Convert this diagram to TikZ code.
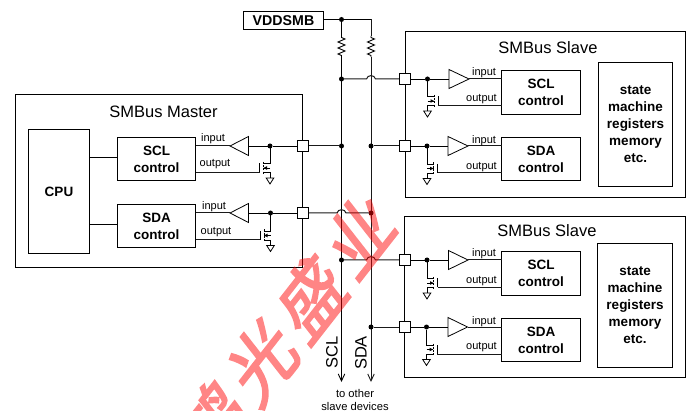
\documentclass[tikz,border=0pt]{standalone}
\usepackage{fontspec}
\setmainfont{Liberation Sans}
\newfontfamily\cjkwm[FakeBold=2.6,LetterSpace=12]{Noto Sans CJK SC}
\usetikzlibrary{arrows.meta,calc}
\tikzset{
  wire/.style={draw=black,line width=.9pt},
  gwire/.style={draw=black!90,line width=1pt},
  frame/.style={draw=black,line width=.9pt,fill=white,anchor=north west,inner sep=0pt,outer sep=0pt},
  ctrl/.style={frame,font=\bfseries\fontsize{13.5}{17}\selectfont,align=center},
  title/.style={font=\fontsize{16.5}{18}\selectfont,inner sep=0pt},
  smalltext/.style={font=\fontsize{11}{13}\selectfont,inner sep=0pt},
  junction/.style={draw=black,line width=.9pt,fill=white,minimum size=11pt,inner sep=0pt,outer sep=0pt},
  dotnode/.style={circle,fill=black,minimum size=5pt,inner sep=0pt,outer sep=0pt},
  busarrow/.style={-{Straight Barb[length=7pt,width=6.5pt,line width=.9pt]}},
}
% box: name, x1, y1, x2, y2, style, text
\newcommand{\bx}[7]{\node[#6,minimum width={(#4-#2)*1pt},minimum height={(#5-#3)*1pt}] (#1) at (#2,#3) {#7};}
% NMOS pull-down: dot-name, dot x, output y, dir(+1 right/-1 left), gate-end name
\newcommand{\pulldown}[5]{%
  \pgfmathsetmacro{\chx}{#2+#4*6.5}
  \pgfmathsetmacro{\gtx}{#2+#4*10.5}
  \pgfmathsetmacro{\tpy}{#3-9}
  \coordinate (#1-d) at (#2,\tpy);
  \coordinate (#1-c) at (\chx,\tpy);
  \coordinate (#5) at (\gtx,#3);
  \coordinate (#1-s) at (\chx,#3);
  \coordinate (#1-b) at (#2,#3);
  \coordinate (#1-g) at (#2,#3+5.5);
  \draw[wire,line width=.8pt] (#1) -- (#1-d) -- (#1-c);
  \draw[wire,line width=.8pt] (#1-s) -- (#1-b) -- (#1-g);
  \draw[wire,line width=.8pt] (\gtx,\tpy) -- (#5);
  \draw[line width=1pt,dash pattern=on 2pt off 1.2pt] (\chx,\tpy-1.5) -- (\chx,#3+1.5);
  \draw[line width=.7pt] (#2,#3-4.5) -- (\chx,#3-4.5);
  \fill ($(\chx,#3-4.5)+(-#4*3.5,-1.8)$) -- (\chx,#3-4.5) -- ($(\chx,#3-4.5)+(-#4*3.5,1.8)$) -- cycle;
  \draw[wire,line width=.8pt] (#1-g)++(-3.8,0) -- ++(7.6,0) -- ++(-3.8,6) -- cycle;
}
% buffer triangle: name, base x, apex x, y
\newcommand{\buf}[4]{%
  \coordinate (#1-base) at (#2,#4);
  \coordinate (#1-apex) at (#3,#4);
  \draw[wire,fill=white,line width=.8pt] (#2,#4-9.5) -- (#1-apex) -- (#2,#4+9.5) -- cycle;
}
\newcommand{\resistor}[3]{%
  \coordinate (#1-t) at (#2,#3);
  \coordinate (#1-b) at (#2,#3+21);
  \draw[wire] (#1-t) -- ++(0,1.5) -- ++(3.5,1.5) -- ++(-7,3) -- ++(7,3) -- ++(-7,3) -- ++(7,3) -- ++(-7,3) -- ++(3.5,1.5) -- (#1-b);
}
\begin{document}
\begin{tikzpicture}[x=1pt,y=-1pt]
\useasboundingbox (0,0) rectangle (690,411);
% enclosures
\bx{master}{15.5}{94.5}{302.5}{267.5}{frame}{}
\bx{slaveA}{405.5}{31.5}{685}{197.5}{frame}{}
\bx{slaveB}{404.5}{216.5}{685}{377.5}{frame}{}
\node[title] (mt) at (163.5,112) {SMBus Master};
\node[title] (sta) at (548,47.5) {SMBus Slave};
\node[title] (stb) at (547,230.5) {SMBus Slave};
% function blocks
\bx{cpu}{28.5}{129.5}{89.5}{253.5}{ctrl}{CPU}
\bx{mscl}{117.5}{137.5}{195.5}{180.5}{ctrl}{SCL\\control}
\bx{msda}{117.5}{204.5}{195.5}{247.5}{ctrl}{SDA\\control}
\bx{ascl}{501.5}{70.5}{580.5}{114.5}{ctrl}{SCL\\control}
\bx{asda}{501.5}{137.5}{580.5}{180.5}{ctrl}{SDA\\control}
\bx{astate}{598.5}{62.5}{672.5}{186.5}{ctrl}{state\\machine\\registers\\memory\\etc.}
\bx{bscl}{501.5}{251.5}{580.5}{295.5}{ctrl}{SCL\\control}
\bx{bsda}{501.5}{318.5}{580.5}{361.5}{ctrl}{SDA\\control}
\bx{bstate}{597.5}{243.5}{672.5}{367.5}{ctrl}{state\\machine\\registers\\memory\\etc.}
\bx{vdd}{243.5}{11.5}{323.5}{29.5}{ctrl,font=\bfseries\fontsize{14.2}{17}\selectfont}{VDDSMB}
% CPU links
\draw[wire] (89.5,157.5) -- (117.5,157.5);
\draw[wire] (89.5,224.5) -- (117.5,224.5);
% rail and bus points
\coordinate (rail1) at (341.5,19.5);
\coordinate (rail2) at (371,19.5);
\coordinate (sclEnd) at (341.5,382);
\coordinate (sdaEnd) at (371,382);
\resistor{r1}{341.5}{36}
\resistor{r2}{371}{36}
\draw[wire] (vdd.east |- rail1) -- (rail1) -- (rail2);
\draw[gwire] (rail2) -- (r2-t);
\draw[wire] (rail1) -- (r1-t);
\draw[wire,busarrow] (r1-b) -- (sclEnd);
\draw[gwire,busarrow] (r2-b) -- (sdaEnd);
% junction positions
\node[dotnode] (d1) at (341.5,19.5) {};
\node[dotnode] (dA) at (341.5,79) {};
\node[dotnode] (dB) at (341.5,146) {};
\node[dotnode] (dC) at (371,146) {};
\node[dotnode] (dD) at (371,213) {};
\node[dotnode] (dE) at (341.5,260) {};
\node[dotnode] (dF) at (371,327) {};
% bus stubs
\draw[gwire] (dB) -- (302.5,146);
\draw[gwire] (dC) -- (405.5,146);
\draw[gwire] (302.5,213) -- (337,213) .. controls (337.8,208.6) and (345.2,208.6) .. (346,213) -- (dD);
\draw[gwire] (dA) -- (366.5,79) .. controls (367.3,74.5) and (374.7,74.5) .. (375.5,79) -- (405.5,79);
\draw[gwire] (dE) -- (366.5,260) .. controls (367.3,255.5) and (374.7,255.5) .. (375.5,260) -- (404.5,260);
\draw[gwire] (dF) -- (404.5,327);
% master channels
\node[dotnode] (m1) at (270,146) {};
\node[dotnode] (m2) at (270.5,213) {};
\buf{mb1}{248.5}{230}{146}
\buf{mb2}{248.5}{230}{213}
\draw[wire] (m1) -- (mb1-base);
\draw[wire] (m2) -- (mb2-base);
\draw[gwire] (mb1-apex) -- (195.5,146);
\draw[gwire] (mb2-apex) -- (195.5,213);
\pulldown{m1}{270}{172.5}{-1}{mg1}
\pulldown{m2}{270.5}{240}{-1}{mg2}
\draw[gwire] (mg1) -- (195.5,172.5);
\draw[gwire] (mg2) -- (195.5,240);
% slave A channels
\node[dotnode] (a1) at (427.5,79) {};
\node[dotnode] (a2) at (427,146) {};
\buf{ab1}{449}{469}{79}
\buf{ab2}{448}{468}{146}
\draw[wire] (a1) -- (ab1-base);
\draw[wire] (a2) -- (ab2-base);
\draw[gwire] (ab1-apex) -- (501.5,79);
\draw[gwire] (ab2-apex) -- (501.5,146);
\pulldown{a1}{427.5}{105.5}{1}{ag1}
\pulldown{a2}{427}{173}{1}{ag2}
\draw[gwire] (ag1) -- (501.5,105.5);
\draw[gwire] (ag2) -- (501.5,173);
% slave B channels
\node[dotnode] (b1) at (427,260) {};
\node[dotnode] (b2) at (426.5,327) {};
\buf{bb1}{448.5}{468}{260}
\buf{bb2}{448}{467.5}{327}
\draw[wire] (b1) -- (bb1-base);
\draw[wire] (b2) -- (bb2-base);
\draw[gwire] (bb1-apex) -- (501.5,260);
\draw[gwire] (bb2-apex) -- (501.5,327);
\pulldown{b1}{427}{287.5}{1}{bg1}
\pulldown{b2}{426.5}{354}{1}{bg2}
\draw[gwire] (bg1) -- (501.5,287.5);
\draw[gwire] (bg2) -- (501.5,354);
% interface squares
\node[junction] (jm1) at (302.5,146) {};
\node[junction] (jm2) at (302.5,213) {};
\node[junction] (ja1) at (405,79) {};
\node[junction] (ja2) at (405,146) {};
\node[junction] (jb1) at (404.5,260) {};
\node[junction] (jb2) at (404.5,327) {};
\draw[wire] (jm1) -- (m1);
\draw[wire] (jm2) -- (m2);
\draw[wire] (ja1) -- (a1);
\draw[wire] (ja2) -- (a2);
\draw[wire] (jb1) -- (b1);
\draw[wire] (jb2) -- (b2);
% small labels
\node[smalltext] (t1) at (213,139) {input};
\node[smalltext] (t2) at (215,164.5) {output};
\node[smalltext] (t3) at (214,207) {input};
\node[smalltext] (t4) at (216,232.5) {output};
\node[smalltext] (t5) at (484,72.5) {input};
\node[smalltext] (t6) at (481.5,99.5) {output};
\node[smalltext] (t7) at (484,140.5) {input};
\node[smalltext] (t8) at (481.5,167) {output};
\node[smalltext] (t9) at (484,253.5) {input};
\node[smalltext] (t10) at (481.5,281) {output};
\node[smalltext] (t11) at (484,321.5) {input};
\node[smalltext] (t12) at (481.5,347.5) {output};
% bus labels
\node[title,rotate=90] (scl) at (332,352.5) {SCL};
\node[title,rotate=90] (sda) at (361,353) {SDA};
\node[inner sep=0pt,align=center,font=\fontsize{11.2}{13}\selectfont] (other) at (355,399.5) {to other\\slave devices};
% overlay
\begin{scope}
\clip (0,0) rectangle (690,411);
\begin{scope}[shift={(287,329)},yscale=1.28,transparency group,opacity=.48]
\node[transform shape,red,inner sep=0pt,rotate=45,font=\cjkwm\fontsize{62}{62}\selectfont] (wm) at (0,0) {鸿光盛业};
\end{scope}
\end{scope}
\end{tikzpicture}
\end{document}
